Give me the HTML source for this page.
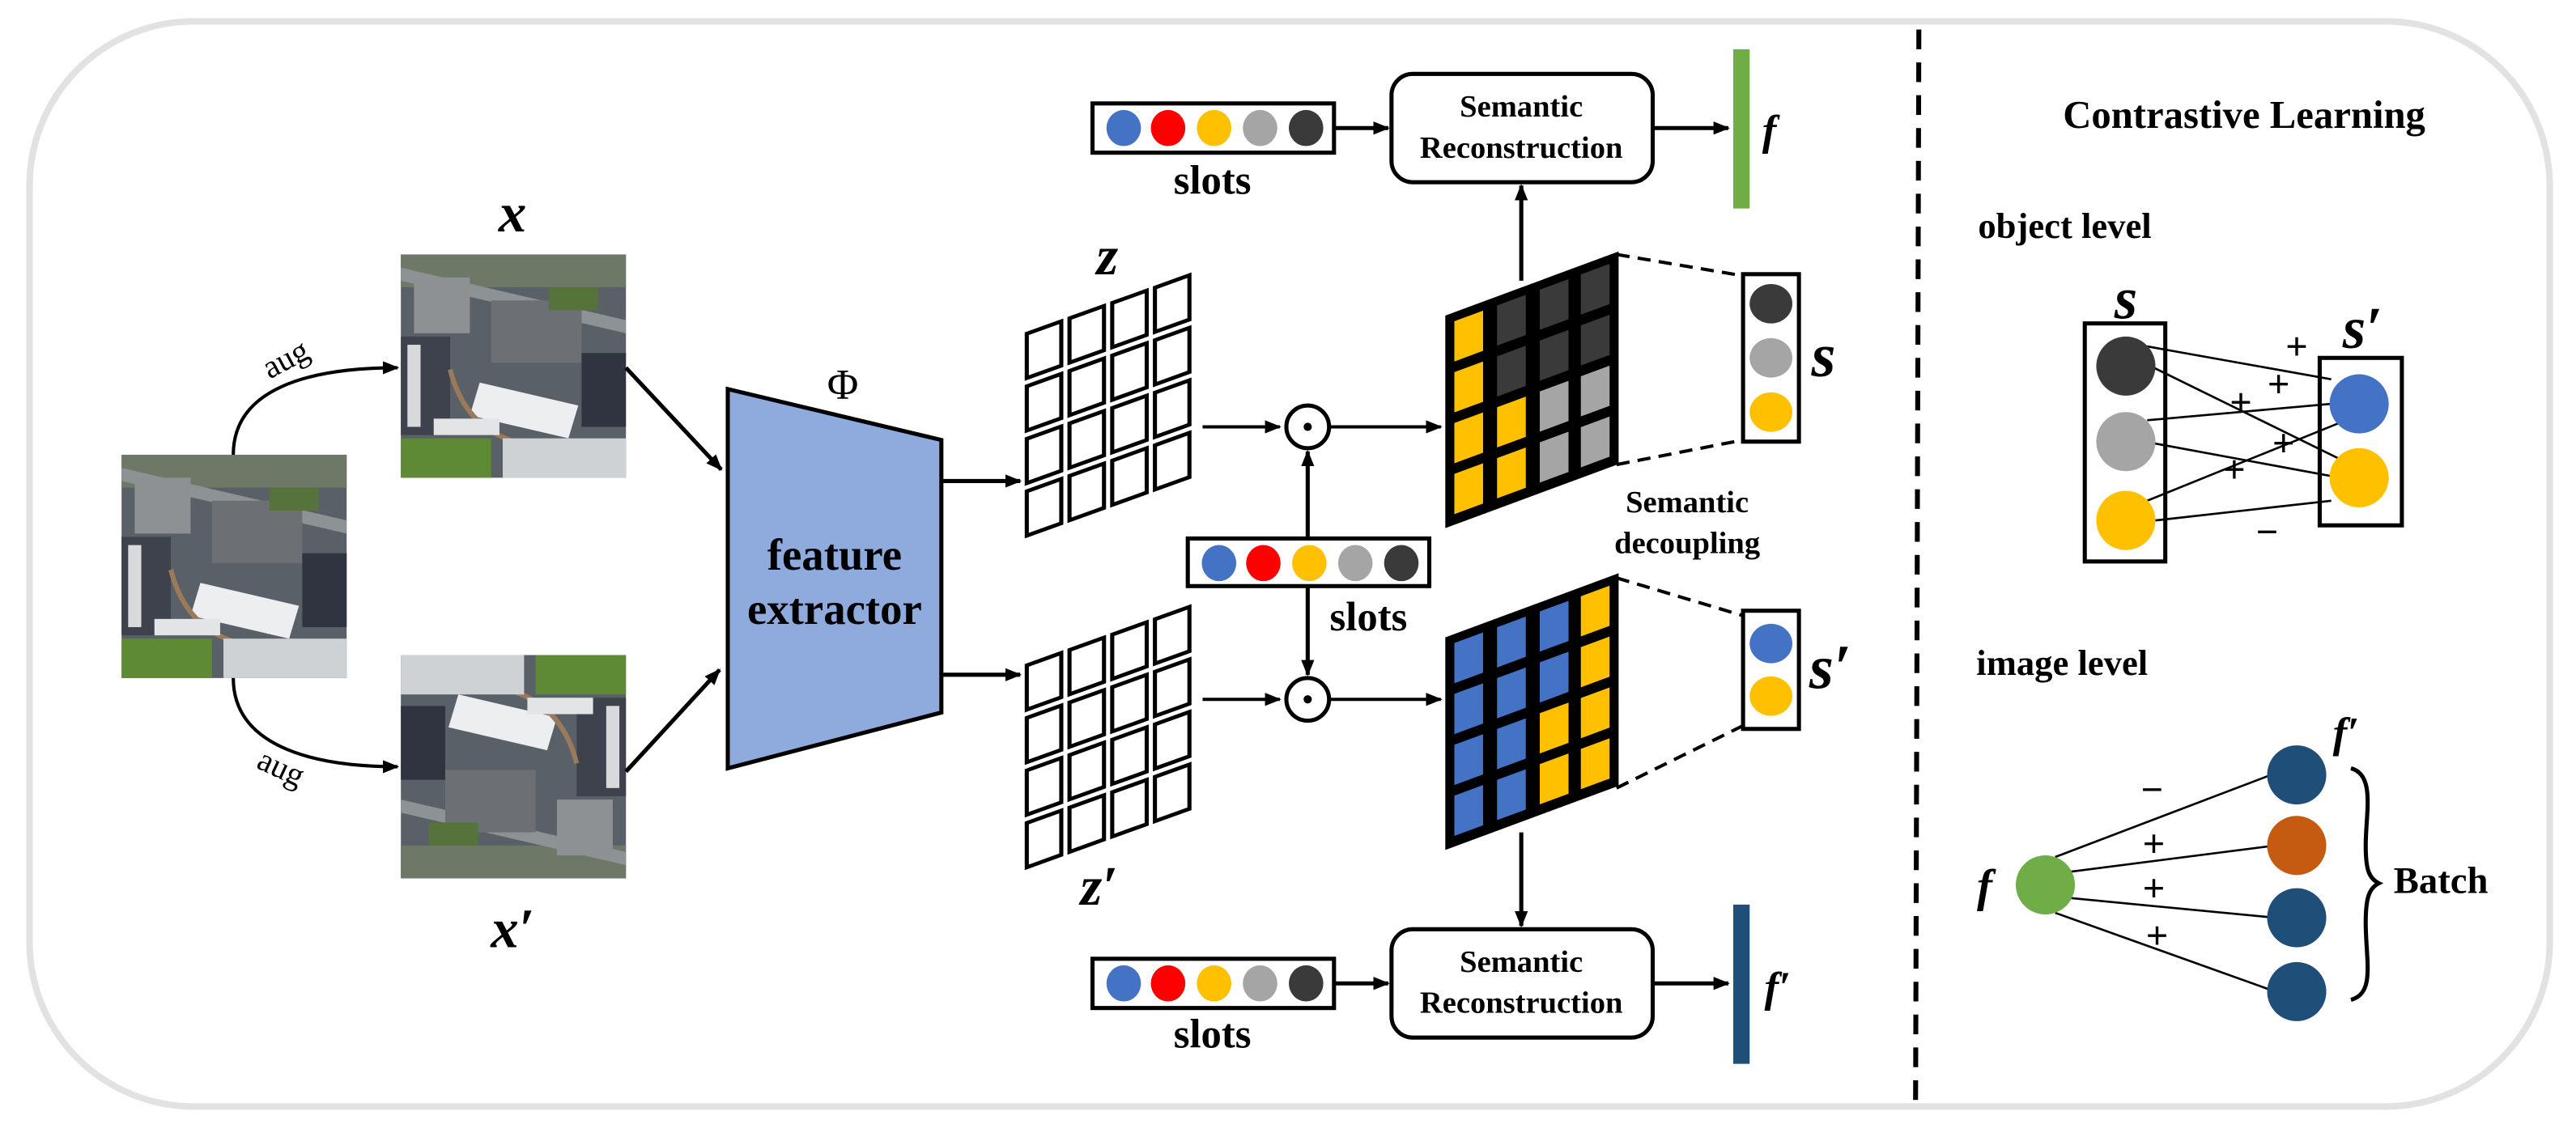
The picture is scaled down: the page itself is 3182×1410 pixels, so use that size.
<!DOCTYPE html>
<html><head><meta charset="utf-8"><style>
html,body{margin:0;padding:0;background:#fff;}
svg{display:block;}
text{font-family:"Liberation Serif",serif;font-weight:bold;}
</style></head><body>
<svg width="3182" height="1410" viewBox="0 0 1568 695" preserveAspectRatio="none" xmlns="http://www.w3.org/2000/svg">
<defs>
<marker id="ar" markerWidth="10" markerHeight="8" refX="9" refY="4" orient="auto" markerUnits="userSpaceOnUse">
<path d="M0,0 L10,4 L0,8 z" fill="#000"/></marker>
<g id="aerial">
<rect x="0" y="0" width="137" height="136" fill="#5a6068"/>
<rect x="0" y="0" width="137" height="20" fill="#6e7866"/>
<polygon points="0,8 137,40 137,48 0,16" fill="#8d9295"/>
<rect x="8" y="14" width="34" height="34" fill="#8e9194"/>
<rect x="55" y="28" width="55" height="38" fill="#6c7075"/>
<rect x="90" y="20" width="30" height="14" fill="#55733a"/>
<rect x="0" y="50" width="30" height="60" fill="#3e424c"/>
<rect x="4" y="55" width="8" height="50" fill="#d7d9dc"/>
<polygon points="48,78 108,92 102,112 42,98" fill="#eceef0"/>
<path d="M30,70 C40,110 70,120 110,118" stroke="#9a7a5a" stroke-width="3" fill="none"/>
<rect x="0" y="112" width="55" height="24" fill="#5e8a36"/>
<rect x="62" y="112" width="75" height="24" fill="#cfd2d5"/>
<rect x="110" y="60" width="27" height="45" fill="#2f3440"/>
<rect x="20" y="100" width="40" height="10" fill="#e2e4e6"/>
</g>
</defs>
<rect x="18" y="13" width="1534" height="661" rx="100" ry="100" fill="#fff" stroke="#e2e2e2" stroke-width="4"/>
<line x1="1168" y1="18" x2="1166" y2="672" stroke="#000" stroke-width="3" stroke-dasharray="12,8"/>

<!-- images -->
<use href="#aerial" transform="translate(74,277)"/>
<use href="#aerial" transform="translate(244,155)"/>
<g transform="translate(381,535) rotate(180)"><use href="#aerial"/></g>
<text x="312" y="141" font-size="34" font-style="italic" text-anchor="middle">x</text>
<text x="312" y="577" font-size="34" font-style="italic" text-anchor="middle">x′</text>
<path d="M142,277 C142,238 185,224 242,224" fill="none" stroke="#000" stroke-width="2" marker-end="url(#ar)"/>
<path d="M142,413 C142,452 185,467 242,467" fill="none" stroke="#000" stroke-width="2" marker-end="url(#ar)"/>
<text x="174" y="225" font-size="20" text-anchor="middle" transform="rotate(-28 174 219)" style="font-weight:normal">aug</text>
<text x="171" y="474" font-size="20" text-anchor="middle" transform="rotate(25 171 468)" style="font-weight:normal">aug</text>
<line x1="381" y1="224" x2="439" y2="286" stroke="#000" stroke-width="2.5" marker-end="url(#ar)"/>
<line x1="381" y1="470" x2="438" y2="408" stroke="#000" stroke-width="2.5" marker-end="url(#ar)"/>

<!-- feature extractor -->
<polygon points="443,237 573,268 573,434 443,468" fill="#8faadc" stroke="#000" stroke-width="2.5"/>
<text x="513" y="243" font-size="26" text-anchor="middle" style="font-weight:normal">Φ</text>
<text x="508" y="347" font-size="27" text-anchor="middle">feature</text>
<text x="508" y="380" font-size="27" text-anchor="middle">extractor</text>
<line x1="573" y1="293" x2="621" y2="293" stroke="#000" stroke-width="2.5" marker-end="url(#ar)"/>
<line x1="573" y1="411" x2="621" y2="411" stroke="#000" stroke-width="2.5" marker-end="url(#ar)"/>

<!-- z grids -->
<g fill="#fff" stroke="#000" stroke-width="2.5">
<g transform="matrix(1,-0.36,0,1,623,202)">
<rect x="2" y="2" width="21" height="27"/><rect x="28" y="2" width="21" height="27"/><rect x="54" y="2" width="21" height="27"/><rect x="80" y="2" width="21" height="27"/>
<rect x="2" y="34" width="21" height="27"/><rect x="28" y="34" width="21" height="27"/><rect x="54" y="34" width="21" height="27"/><rect x="80" y="34" width="21" height="27"/>
<rect x="2" y="66" width="21" height="27"/><rect x="28" y="66" width="21" height="27"/><rect x="54" y="66" width="21" height="27"/><rect x="80" y="66" width="21" height="27"/>
<rect x="2" y="98" width="21" height="27"/><rect x="28" y="98" width="21" height="27"/><rect x="54" y="98" width="21" height="27"/><rect x="80" y="98" width="21" height="27"/>
</g>
<g transform="matrix(1,-0.36,0,1,623,404)">
<rect x="2" y="2" width="21" height="27"/><rect x="28" y="2" width="21" height="27"/><rect x="54" y="2" width="21" height="27"/><rect x="80" y="2" width="21" height="27"/>
<rect x="2" y="34" width="21" height="27"/><rect x="28" y="34" width="21" height="27"/><rect x="54" y="34" width="21" height="27"/><rect x="80" y="34" width="21" height="27"/>
<rect x="2" y="66" width="21" height="27"/><rect x="28" y="66" width="21" height="27"/><rect x="54" y="66" width="21" height="27"/><rect x="80" y="66" width="21" height="27"/>
<rect x="2" y="98" width="21" height="27"/><rect x="28" y="98" width="21" height="27"/><rect x="54" y="98" width="21" height="27"/><rect x="80" y="98" width="21" height="27"/>
</g>
</g>
<text x="674" y="167" font-size="34" font-style="italic" text-anchor="middle">z</text>
<text x="669" y="551" font-size="34" font-style="italic" text-anchor="middle">z′</text>

<!-- odot ops -->
<line x1="732" y1="260" x2="779" y2="260" stroke="#000" stroke-width="2" marker-end="url(#ar)"/>
<line x1="732" y1="426" x2="779" y2="426" stroke="#000" stroke-width="2" marker-end="url(#ar)"/>
<circle cx="796" cy="260" r="13" fill="#fff" stroke="#000" stroke-width="2.5"/><circle cx="796" cy="260" r="2.5"/>
<circle cx="796" cy="426" r="13" fill="#fff" stroke="#000" stroke-width="2.5"/><circle cx="796" cy="426" r="2.5"/>
<line x1="809" y1="260" x2="877" y2="260" stroke="#000" stroke-width="2" marker-end="url(#ar)"/>
<line x1="809" y1="426" x2="877" y2="426" stroke="#000" stroke-width="2" marker-end="url(#ar)"/>
<line x1="796" y1="328" x2="796" y2="275" stroke="#000" stroke-width="2.5" marker-end="url(#ar)"/>
<line x1="796" y1="357" x2="796" y2="411" stroke="#000" stroke-width="2.5" marker-end="url(#ar)"/>

<!-- slots -->
<g stroke="#000" stroke-width="2.5" fill="#fff">
<rect x="665" y="63" width="147" height="30"/>
<rect x="723" y="328" width="147" height="29"/>
<rect x="665" y="584" width="147" height="30"/>
</g>
<g>
<ellipse cx="684" cy="78" rx="10.5" ry="11" fill="#4472c4"/><ellipse cx="711" cy="78" rx="10.5" ry="11" fill="#f00"/><ellipse cx="739" cy="78" rx="10.5" ry="11" fill="#ffc000"/><ellipse cx="767" cy="78" rx="10.5" ry="11" fill="#a5a5a5"/><ellipse cx="795" cy="78" rx="10.5" ry="11" fill="#3a3a3a"/>
<ellipse cx="742" cy="343" rx="10.5" ry="11" fill="#4472c4"/><ellipse cx="769" cy="343" rx="10.5" ry="11" fill="#f00"/><ellipse cx="797" cy="343" rx="10.5" ry="11" fill="#ffc000"/><ellipse cx="825" cy="343" rx="10.5" ry="11" fill="#a5a5a5"/><ellipse cx="853" cy="343" rx="10.5" ry="11" fill="#3a3a3a"/>
<ellipse cx="684" cy="599" rx="10.5" ry="11" fill="#4472c4"/><ellipse cx="711" cy="599" rx="10.5" ry="11" fill="#f00"/><ellipse cx="739" cy="599" rx="10.5" ry="11" fill="#ffc000"/><ellipse cx="767" cy="599" rx="10.5" ry="11" fill="#a5a5a5"/><ellipse cx="795" cy="599" rx="10.5" ry="11" fill="#3a3a3a"/>
</g>
<text x="738" y="118" font-size="25" text-anchor="middle">slots</text>
<text x="833" y="384" font-size="25" text-anchor="middle">slots</text>
<text x="738" y="638" font-size="25" text-anchor="middle">slots</text>

<!-- semantic reconstruction -->
<line x1="812" y1="78" x2="845" y2="78" stroke="#000" stroke-width="2.5" marker-end="url(#ar)"/>
<line x1="812" y1="599" x2="845" y2="599" stroke="#000" stroke-width="2.5" marker-end="url(#ar)"/>
<rect x="847" y="45" width="159" height="66" rx="13" fill="#fff" stroke="#000" stroke-width="2.5"/>
<rect x="847" y="566" width="159" height="66" rx="13" fill="#fff" stroke="#000" stroke-width="2.5"/>
<text x="926" y="71" font-size="19" text-anchor="middle">Semantic</text>
<text x="926" y="96" font-size="19" text-anchor="middle">Reconstruction</text>
<text x="926" y="592" font-size="19" text-anchor="middle">Semantic</text>
<text x="926" y="617" font-size="19" text-anchor="middle">Reconstruction</text>
<line x1="1006" y1="78" x2="1052" y2="78" stroke="#000" stroke-width="2.5" marker-end="url(#ar)"/>
<line x1="1006" y1="599" x2="1052" y2="599" stroke="#000" stroke-width="2.5" marker-end="url(#ar)"/>
<rect x="1055" y="30" width="10" height="97" fill="#70ad47"/>
<rect x="1055" y="551" width="10" height="97" fill="#1f4e79"/>
<text x="1077" y="88" font-size="26" font-style="italic" text-anchor="middle">f</text>
<text x="1082" y="610" font-size="26" font-style="italic" text-anchor="middle">f′</text>
<line x1="926" y1="171" x2="926" y2="113" stroke="#000" stroke-width="2.5" marker-end="url(#ar)"/>
<line x1="926" y1="507" x2="926" y2="564" stroke="#000" stroke-width="2.5" marker-end="url(#ar)"/>

<!-- colored grids -->
<g stroke="#000" stroke-width="2.5">
<g transform="matrix(1,-0.37,0,1,881,193)">
<rect x="0" y="0" width="103" height="127" fill="#000"/>
<rect x="3" y="3" width="20" height="27" fill="#ffc000"/><rect x="29" y="3" width="20" height="27" fill="#3a3a3a"/><rect x="55" y="3" width="20" height="27" fill="#3a3a3a"/><rect x="80" y="3" width="20" height="27" fill="#3a3a3a"/>
<rect x="3" y="34" width="20" height="27" fill="#ffc000"/><rect x="29" y="34" width="20" height="27" fill="#3a3a3a"/><rect x="55" y="34" width="20" height="27" fill="#3a3a3a"/><rect x="80" y="34" width="20" height="27" fill="#3a3a3a"/>
<rect x="3" y="65" width="20" height="27" fill="#ffc000"/><rect x="29" y="65" width="20" height="27" fill="#ffc000"/><rect x="55" y="65" width="20" height="27" fill="#a5a5a5"/><rect x="80" y="65" width="20" height="27" fill="#a5a5a5"/>
<rect x="3" y="96" width="20" height="27" fill="#ffc000"/><rect x="29" y="96" width="20" height="27" fill="#ffc000"/><rect x="55" y="96" width="20" height="27" fill="#a5a5a5"/><rect x="80" y="96" width="20" height="27" fill="#a5a5a5"/>
</g>
<g transform="matrix(1,-0.37,0,1,881,389)">
<rect x="0" y="0" width="103" height="127" fill="#000"/>
<rect x="3" y="3" width="20" height="27" fill="#4472c4"/><rect x="29" y="3" width="20" height="27" fill="#4472c4"/><rect x="55" y="3" width="20" height="27" fill="#4472c4"/><rect x="80" y="3" width="20" height="27" fill="#ffc000"/>
<rect x="3" y="34" width="20" height="27" fill="#4472c4"/><rect x="29" y="34" width="20" height="27" fill="#4472c4"/><rect x="55" y="34" width="20" height="27" fill="#4472c4"/><rect x="80" y="34" width="20" height="27" fill="#ffc000"/>
<rect x="3" y="65" width="20" height="27" fill="#4472c4"/><rect x="29" y="65" width="20" height="27" fill="#4472c4"/><rect x="55" y="65" width="20" height="27" fill="#ffc000"/><rect x="80" y="65" width="20" height="27" fill="#ffc000"/>
<rect x="3" y="96" width="20" height="27" fill="#4472c4"/><rect x="29" y="96" width="20" height="27" fill="#4472c4"/><rect x="55" y="96" width="20" height="27" fill="#ffc000"/><rect x="80" y="96" width="20" height="27" fill="#ffc000"/>
</g>
</g>
<g stroke="#000" stroke-width="2" stroke-dasharray="8,5" fill="none">
<line x1="984" y1="155" x2="1061" y2="168"/><line x1="984" y1="283" x2="1061" y2="268"/>
<line x1="984" y1="352" x2="1061" y2="375"/><line x1="984" y1="480" x2="1061" y2="442"/>
</g>
<rect x="1061" y="167" width="34" height="102" fill="#fff" stroke="#000" stroke-width="2.5"/>
<ellipse cx="1078" cy="185" rx="13" ry="12" fill="#3a3a3a"/><ellipse cx="1078" cy="218" rx="13" ry="12" fill="#a5a5a5"/><ellipse cx="1078" cy="251" rx="13" ry="12" fill="#ffc000"/>
<rect x="1061" y="372" width="34" height="72" fill="#fff" stroke="#000" stroke-width="2.5"/>
<ellipse cx="1078" cy="392" rx="13" ry="12" fill="#4472c4"/><ellipse cx="1078" cy="424" rx="13" ry="12" fill="#ffc000"/>
<text x="1110" y="229" font-size="38" font-style="italic" text-anchor="middle">s</text>
<text x="1114" y="419" font-size="38" font-style="italic" text-anchor="middle">s′</text>
<text x="1027" y="312" font-size="19" text-anchor="middle">Semantic</text>
<text x="1027" y="337" font-size="19" text-anchor="middle">decoupling</text>

<!-- right panel -->
<text x="1366" y="78" font-size="24" text-anchor="middle">Contrastive Learning</text>
<text x="1204" y="145" font-size="22">object level</text>
<text x="1294" y="194" font-size="36" font-style="italic" text-anchor="middle">s</text>
<text x="1438" y="212" font-size="36" font-style="italic" text-anchor="middle">s′</text>
<rect x="1269" y="197" width="49" height="145" fill="#fff" stroke="#000" stroke-width="2.5"/>
<rect x="1412" y="218" width="50" height="102" fill="#fff" stroke="#000" stroke-width="2.5"/>
<g stroke="#000" stroke-width="1.3">
<line x1="1307" y1="211" x2="1419" y2="231"/>
<line x1="1311" y1="224" x2="1423" y2="279"/>
<line x1="1307" y1="256" x2="1419" y2="246"/>
<line x1="1311" y1="270" x2="1419" y2="290"/>
<line x1="1307" y1="305" x2="1423" y2="258"/>
<line x1="1312" y1="317" x2="1419" y2="305"/>
</g>
<ellipse cx="1294" cy="223" rx="18" ry="18" fill="#3a3a3a"/>
<ellipse cx="1294" cy="269" rx="18" ry="18" fill="#a5a5a5"/>
<ellipse cx="1294" cy="317" rx="18" ry="18" fill="#ffc000"/>
<ellipse cx="1436" cy="246" rx="18" ry="18" fill="#4472c4"/>
<ellipse cx="1436" cy="291" rx="18" ry="18" fill="#ffc000"/>
<g font-size="24" text-anchor="middle" style="font-weight:normal">
<text x="1398" y="219">+</text><text x="1387" y="242">+</text><text x="1364" y="253">+</text><text x="1390" y="278">+</text><text x="1360" y="294">+</text><text x="1380" y="332">−</text>
</g>

<text x="1203" y="411" font-size="22">image level</text>
<g stroke="#000" stroke-width="1.3">
<line x1="1251" y1="522" x2="1385" y2="471"/>
<line x1="1260" y1="531" x2="1385" y2="515"/>
<line x1="1260" y1="547" x2="1385" y2="559"/>
<line x1="1251" y1="556" x2="1385" y2="604"/>
</g>
<ellipse cx="1245" cy="539" rx="18" ry="18" fill="#70ad47"/>
<ellipse cx="1398" cy="472" rx="18" ry="18" fill="#1f4e79"/>
<ellipse cx="1398" cy="515" rx="18" ry="18" fill="#c55a11"/>
<ellipse cx="1398" cy="559" rx="18" ry="18" fill="#1f4e79"/>
<ellipse cx="1398" cy="604" rx="18" ry="18" fill="#1f4e79"/>
<text x="1208" y="549" font-size="28" font-style="italic" text-anchor="middle">f</text>
<text x="1428" y="455" font-size="26" font-style="italic" text-anchor="middle">f′</text>
<g font-size="24" text-anchor="middle" style="font-weight:normal">
<text x="1310" y="489">−</text><text x="1311" y="522">+</text><text x="1311" y="549">+</text><text x="1313" y="578">+</text>
</g>
<path d="M1431,468 C1446,472 1440,495 1440,515 C1440,530 1442,535 1448,538 C1442,541 1440,547 1440,562 C1440,585 1446,605 1431,609" fill="none" stroke="#000" stroke-width="2.5"/>
<text x="1457" y="544" font-size="23">Batch</text>
</svg>
</body></html>
